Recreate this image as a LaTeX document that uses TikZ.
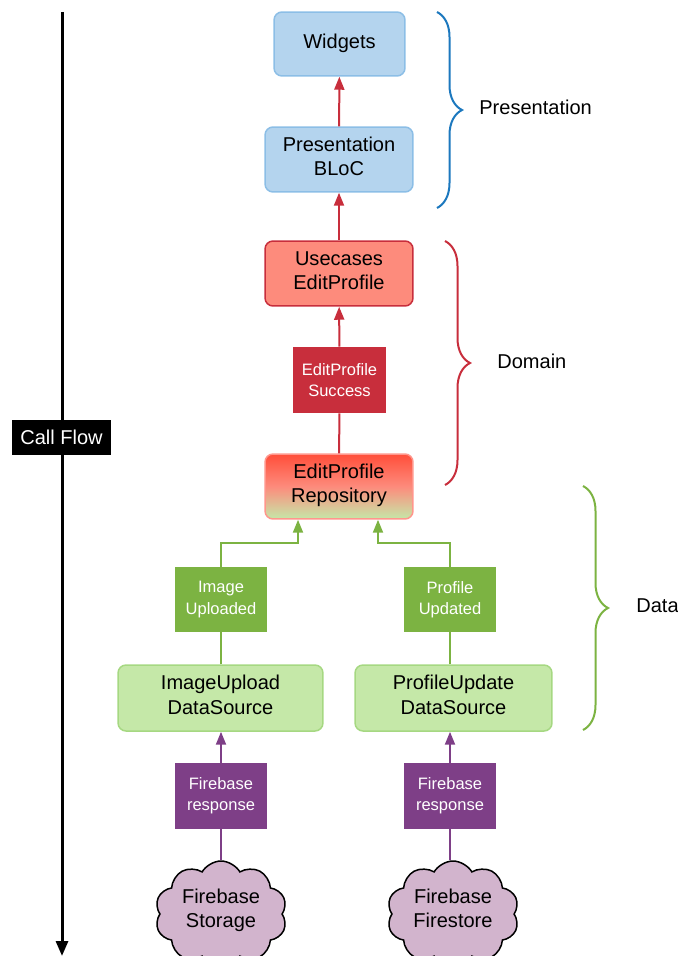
\documentclass[tikz,border=0pt]{standalone}
\usepackage{fontspec}
\setmainfont{Liberation Sans}
\usetikzlibrary{arrows.meta,shapes.symbols,decorations.pathreplacing}

\definecolor{presfill}{RGB}{180,212,238}
\definecolor{presline}{RGB}{140,190,230}
\definecolor{presbrace}{RGB}{28,120,190}
\definecolor{domred}{RGB}{200,46,60}
\definecolor{domfill}{RGB}{253,139,124}
\definecolor{repotop}{RGB}{255,78,58}
\definecolor{repoline}{RGB}{255,150,140}
\definecolor{datagreen}{RGB}{124,179,66}
\definecolor{datafill}{RGB}{197,232,168}
\definecolor{dataline}{RGB}{166,216,130}
\definecolor{fbpurple}{RGB}{126,63,135}
\definecolor{cloudfill}{RGB}{210,180,205}

\begin{document}
\begin{tikzpicture}[
		x=0.02cm, y=-0.02cm,
		boxfont/.style={font=\fontsize{11.4}{13.7}\selectfont},
		tagfont/.style={font=\fontsize{9.4}{12}\selectfont},
		layer box/.style={boxfont, draw, line width=0.03cm, rounded corners=0.16cm,
			align=center, minimum height=1.3cm, inner sep=0, text depth=0.13cm},
		pres box/.style={layer box, fill=presfill, draw=presline},
		domain box/.style={layer box, fill=domfill, draw=domred},
		data box/.style={layer box, fill=datafill, draw=dataline, minimum height=1.32cm},
		tag/.style={tagfont, text=white, align=center, minimum width=1.84cm,
			minimum height=1.3cm, inner sep=0},
		flow/.style={line width=0.04cm, -{Triangle[length=0.26cm,width=0.2cm]}},
		link/.style={line width=0.04cm},
		layer brace/.style={line width=0.04cm, decorate,
			decoration={brace, amplitude=0.5cm}},
		cloudnode/.style={boxfont, cloud, cloud puffs=10, cloud puff arc=120, aspect=1.3,
			draw=black, line width=0.03cm, fill=cloudfill, align=center,
			minimum width=2.64cm, minimum height=2.12cm, inner sep=0, text depth=0.24cm}
	]
	\useasboundingbox (0,0) rectangle (677,956);

	\coordinate (flowtop) at (62,12);
	\coordinate (flowend) at (62,956);
	\draw[line width=0.06cm, -{Triangle[length=0.3cm,width=0.24cm]}] (flowtop) -- (flowend);
	\node[boxfont, fill=black, text=white, minimum width=1.98cm, minimum height=0.7cm,
		inner sep=0] (callflow) at (61.5,437.5) {Call Flow};

	\node[pres box, minimum width=2.62cm, minimum height=1.28cm] (widgets) at (339.5,44) {Widgets};
	\node[pres box, minimum width=2.96cm] (bloc) at (339,159.5) {Presentation\\BLoC};
	\node[domain box, minimum width=2.96cm] (usecases) at (339,273.5) {Usecases\\EditProfile};
	\node[tag, fill=domred, minimum width=1.86cm, minimum height=1.32cm] (success) at (339.5,380) {EditProfile\\Success};
	\node[layer box, draw=repoline, minimum width=2.96cm, top color=repotop,
		bottom color=datafill, middle color=domfill] (repo) at (339,486.5) {EditProfile\\Repository};

	\node[tag, fill=datagreen] (imgup) at (221,599.5) {Image\\Uploaded};
	\node[tag, fill=datagreen] (profup) at (450,599.5) {Profile\\Updated};
	\node[data box, minimum width=4.1cm] (imgsrc) at (220.5,698) {ImageUpload\\DataSource};
	\node[data box, minimum width=3.94cm] (profsrc) at (453.5,698) {ProfileUpdate\\DataSource};

	\node[tag, fill=fbpurple, minimum height=1.32cm] (resp1) at (221,796) {Firebase\\response};
	\node[tag, fill=fbpurple, minimum height=1.32cm] (resp2) at (450,796) {Firebase\\response};
	\node[cloudnode] (storage) at (221,914) {Firebase\\Storage};
	\node[cloudnode] (firestore) at (453,914) {Firebase\\Firestore};

	\draw[flow, domred] (bloc) -- (widgets);
	\draw[flow, domred] (usecases) -- (bloc);
	\draw[flow, domred] (success) -- (usecases);
	\draw[link, domred] (repo) -- (success);

	\draw[flow, datagreen] (imgup.north) -- ++(0,-24) -| ([xshift=-0.82cm]repo.south);
	\draw[flow, datagreen] (profup.north) -- ++(0,-24) -| ([xshift=0.78cm]repo.south);
	\draw[link, datagreen] (imgsrc.north -| imgup) -- (imgup);
	\draw[link, datagreen] (profsrc.north -| profup) -- (profup);

	\draw[flow, fbpurple] (resp1) -- (resp1 |- imgsrc.south);
	\draw[flow, fbpurple] (resp2) -- (resp2 |- profsrc.south);
	\draw[link, fbpurple] (storage.north -| resp1) -- (resp1);
	\draw[link, fbpurple] (firestore.north -| resp2) -- (resp2);

	\draw[layer brace, presbrace] (437,12) -- (437,208);
	\draw[layer brace, domred] (445,241) -- (445,485);
	\draw[layer brace, datagreen] (583,486) -- (583,730);
	\node[boxfont, anchor=west, inner sep=0] (preslabel) at (479,107) {Presentation};
	\node[boxfont, anchor=west, inner sep=0] (domlabel) at (497,361) {Domain};
	\node[boxfont, anchor=west, inner sep=0] (datalabel) at (636,606) {Data};
\end{tikzpicture}
\end{document}
